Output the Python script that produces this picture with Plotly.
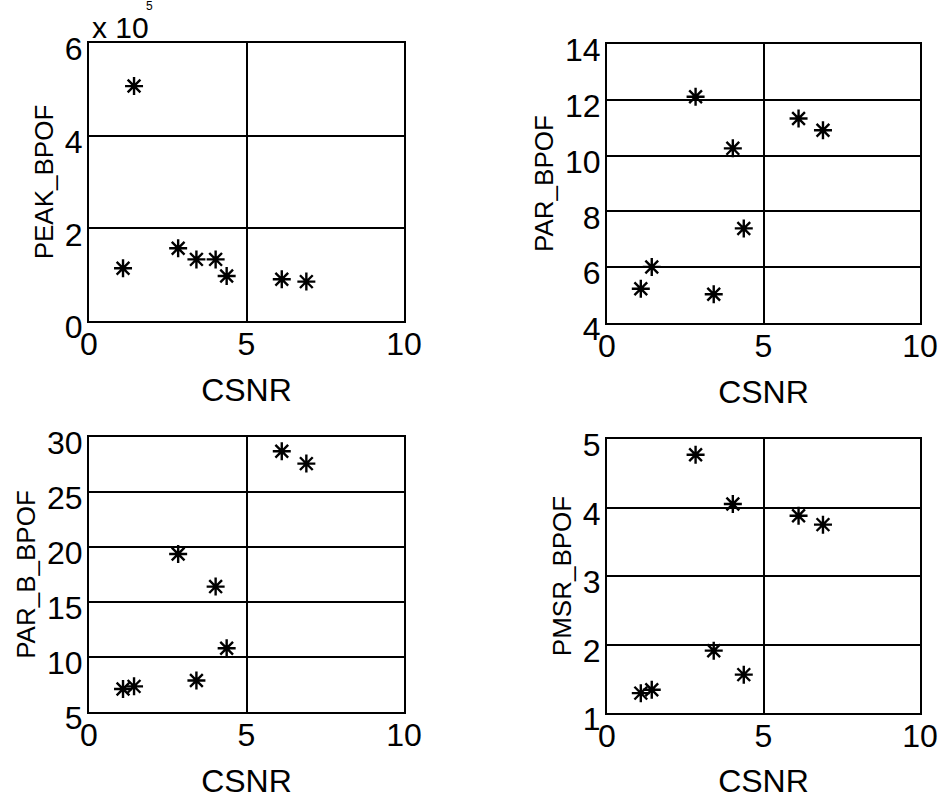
import plotly.graph_objects as go

# Data
csnr = [1.08, 1.43, 2.83, 3.41, 4.02, 4.37, 6.12, 6.90]
peak_bpof = [114000, 507000, 157000, 133000, 133000, 97000, 90000, 85000]
par_bpof = [5.23, 6.01, 12.11, 5.03, 10.26, 7.39, 11.33, 10.91]
par_b_bpof = [7.09, 7.33, 19.36, 7.87, 16.40, 10.80, 28.70, 27.58]
pmsr_bpof = [1.29, 1.34, 4.77, 1.91, 4.05, 1.56, 3.88, 3.75]

x_ticks = [0, 5, 10]
peak_ticks = [0, 200000, 400000, 600000]
peak_ticktext = ["0", "2", "4", "6"]
par_ticks = [4, 6, 8, 10, 12, 14]
parb_ticks = [5, 10, 15, 20, 25, 30]
pmsr_ticks = [1, 2, 3, 4, 5]

W, H = 940, 799
FONT = "Liberation Sans, Arial, sans-serif"

# panel pixel boxes: (left, right, top, bottom)
boxes = [(89, 404, 43, 321), (607, 920, 44, 323), (89, 404, 437, 712), (607, 920, 439, 713)]
series = [peak_bpof, par_bpof, par_b_bpof, pmsr_bpof]
ytitles = ["PEAK_BPOF", "PAR_BPOF", "PAR_B_BPOF", "PMSR_BPOF"]
yranges = [[0, 600000], [4, 14], [5, 30], [1, 5]]
yticks = [peak_ticks, par_ticks, parb_ticks, pmsr_ticks]
yticktext = [peak_ticktext, [str(v) for v in par_ticks], [str(v) for v in parb_ticks], [str(v) for v in pmsr_ticks]]

fig = go.Figure()
layout = dict(
    width=W, height=H,
    margin=dict(l=0, r=0, t=0, b=0, autoexpand=False),
    paper_bgcolor="white", plot_bgcolor="white",
    showlegend=False,
    font=dict(family=FONT, color="black", size=30),
)

for i, (box, ys) in enumerate(zip(boxes, series)):
    n = "" if i == 0 else str(i + 1)
    l, r, t, b = box
    fig.add_trace(go.Scatter(
        x=csnr, y=ys, mode="markers",
        xaxis="x" + n, yaxis="y" + n,
        marker=dict(symbol="asterisk-open", size=15, line=dict(color="black", width=2.4), color="black"),
    ))
    layout["xaxis" + n] = dict(
        domain=[l / W, r / W], anchor="y" + n, range=[0, 10],
        tickvals=x_ticks, ticktext=[str(v) for v in x_ticks],
        showgrid=True, gridcolor="black", gridwidth=2,
        showline=True, linecolor="black", linewidth=2, mirror=True,
        zeroline=False, ticks="", automargin=False,
        ticklabelstandoff=-6,
        tickfont=dict(size=32, family=FONT),
        title=dict(text="CSNR", font=dict(size=32, family=FONT), standoff=17),
    )
    layout["yaxis" + n] = dict(
        domain=[1 - b / H, 1 - t / H], anchor="x" + n, range=yranges[i],
        tickvals=yticks[i], ticktext=yticktext[i],
        showgrid=True, gridcolor="black", gridwidth=2,
        showline=True, linecolor="black", linewidth=2, mirror=True,
        zeroline=False, ticks="", automargin=False,
        ticklabelstandoff=-2, ticklabelshift=6,
        tickfont=dict(size=32, family=FONT),
        title=dict(text=ytitles[i], font=dict(size=26, family=FONT), standoff=4),
    )

fig.update_layout(**layout)

# axis exponent label "x 10^5" of the first panel
fig.add_annotation(
    x=90 / W, y=1 - 43 / H, xref="paper", yref="paper",
    xanchor="left", yanchor="bottom", yshift=-3,
    text="x 10", showarrow=False,
    font=dict(size=30, family=FONT, color="black"),
)
fig.add_annotation(
    x=144 / W, y=1.0, xref="paper", yref="paper",
    xanchor="left", yanchor="top", yshift=3,
    text="5", showarrow=False,
    font=dict(size=12, family=FONT, color="black"),
)

# remove the page's default 8px body margin so the figure fills the window
fig.write_html(
    "out.html",
    config={"displayModeBar": False},
    post_script="document.body.style.margin='0';document.body.style.overflow='hidden';",
)
